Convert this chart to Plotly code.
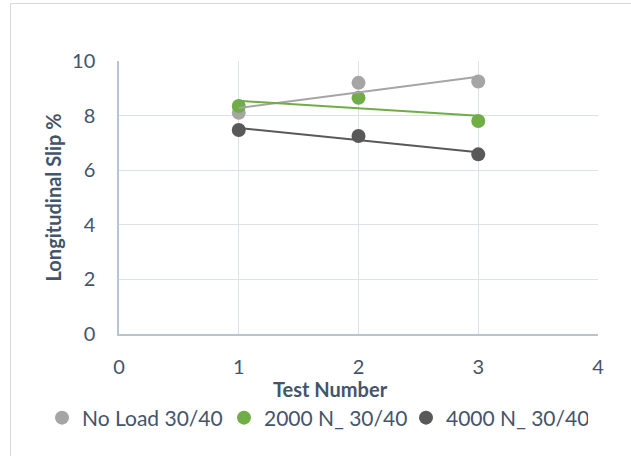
import numpy as np
import plotly.graph_objects as go

# Test data: longitudinal slip (%) per test run
test_numbers = [1, 2, 3]
series_names = ["No Load 30/40", "2000 N_ 30/40", "4000 N_ 30/40"]
slip_no_load = [8.1, 9.2, 9.25]
slip_2000n = [8.35, 8.65, 7.8]
slip_4000n = [7.47, 7.25, 6.58]

x_ticks = [0, 1, 2, 3, 4]
y_ticks = [0, 2, 4, 6, 8, 10]

colors = ["#A5A5A5", "#70AD47", "#595959"]
font_family = "Lato, Open Sans, sans-serif"
text_color = "#44546A"

series_values = [slip_no_load, slip_2000n, slip_4000n]

fig = go.Figure()

# Data points
for name, vals, col in zip(series_names, series_values, colors):
    fig.add_trace(go.Scatter(
        x=test_numbers, y=vals, mode="markers", name=name,
        marker=dict(color=col, size=14, line=dict(width=0)),
    ))

# Linear trendlines over the tested range, drawn above the points
for name, vals, col in zip(series_names, series_values, colors):
    slope, intercept = np.polyfit(test_numbers, vals, 1)
    xs = [min(test_numbers), max(test_numbers)]
    ys = [slope * v + intercept for v in xs]
    fig.add_trace(go.Scatter(
        x=xs, y=ys, mode="lines", showlegend=False, hoverinfo="skip",
        line=dict(color=col, width=2),
    ))

L, R, T, B = 119, 33, 61, 122
W, H = 631, 456
pw, ph = W - L - R, H - T - B


def px_x(p):
    return (p - L) / pw


def px_y(p):
    return (H - B - p) / ph


# Light outer chart frame
fig.add_shape(
    type="rect", xref="paper", yref="paper",
    x0=px_x(10.5), x1=px_x(645), y0=px_y(470), y1=px_y(3.5),
    line=dict(color="#D9D9D9", width=1), fillcolor="rgba(0,0,0,0)", layer="below",
)

# Axis titles
fig.add_annotation(
    text="<b>Test Number</b>", xref="paper", yref="paper",
    x=px_x(330), y=px_y(389), xanchor="center", yanchor="middle",
    showarrow=False, font=dict(size=20, color=text_color, family=font_family),
)
fig.add_annotation(
    text="<b>Longitudinal Slip %</b>", xref="paper", yref="paper",
    x=px_x(52), y=px_y(197.5), xanchor="center", yanchor="middle",
    textangle=-90, showarrow=False,
    font=dict(size=20, color=text_color, family=font_family),
)

fig.update_layout(
    width=W, height=H,
    margin=dict(l=L, r=R, t=T, b=B),
    paper_bgcolor="white", plot_bgcolor="white",
    font=dict(family=font_family, size=20, color=text_color),
    legend=dict(
        orientation="h", x=px_x(42), xanchor="left",
        y=px_y(418), yanchor="middle",
        font=dict(size=21, color=text_color),
        entrywidth=137, itemwidth=30, tracegroupgap=0,
        bgcolor="rgba(0,0,0,0)",
    ),
    showlegend=True,
)

fig.update_xaxes(
    range=[0, 4], tickvals=x_ticks, ticktext=[str(v) for v in x_ticks],
    showgrid=True, gridcolor="#DCE1E8", gridwidth=1,
    showline=True, linecolor="#B8C4D4", linewidth=1.5,
    zeroline=False, ticks="", ticklabelstandoff=14,
    tickfont=dict(size=20, color=text_color),
)

fig.update_yaxes(
    range=[0, 10], tickvals=y_ticks, ticktext=[str(v) for v in y_ticks],
    showgrid=True, gridcolor="#DCE1E8", gridwidth=1,
    showline=True, linecolor="#B8C4D4", linewidth=1.5,
    zeroline=False, ticks="", ticklabelstandoff=18,
    tickfont=dict(size=20, color=text_color),
)

fig.write_html("out.html")
